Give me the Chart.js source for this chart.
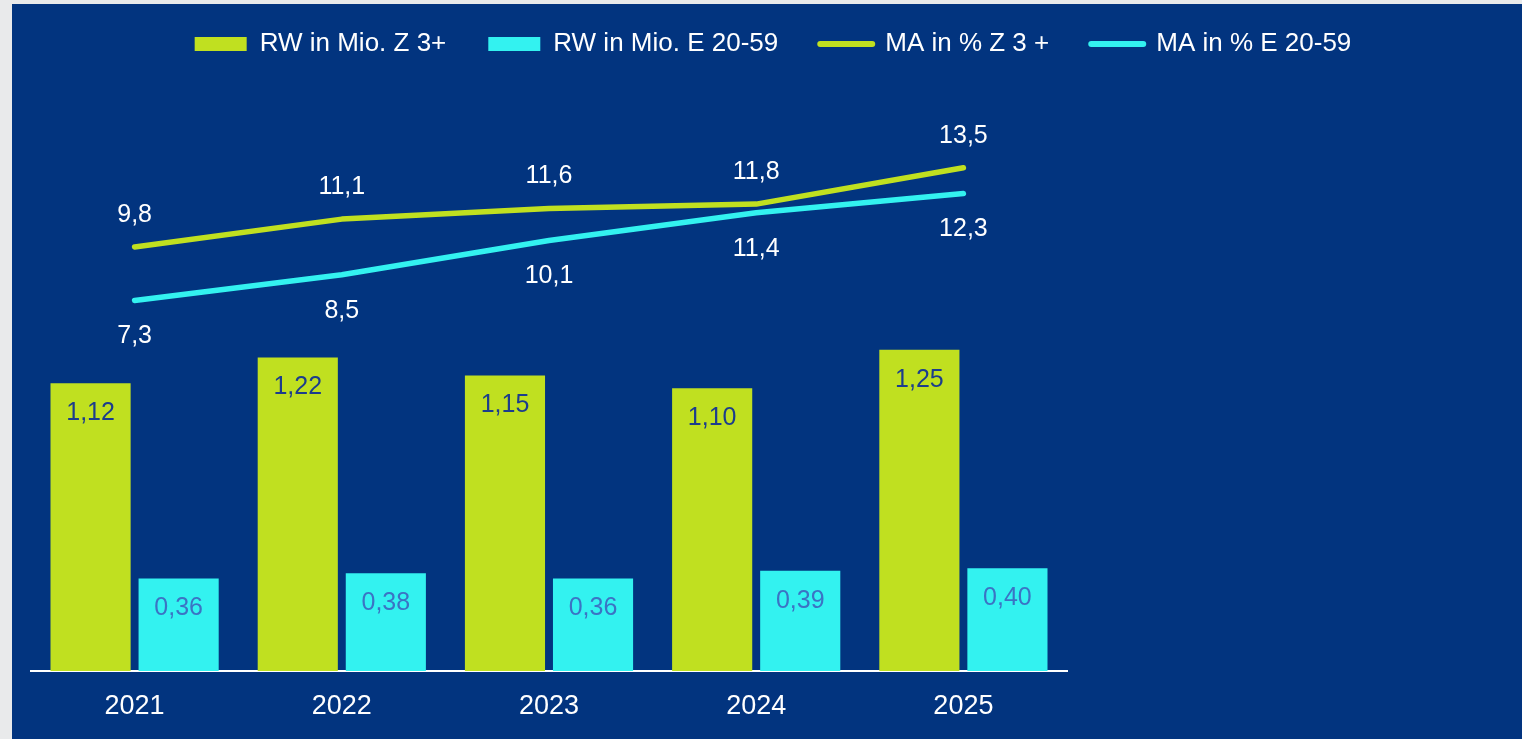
<!DOCTYPE html>
<html>
<head>
<meta charset="utf-8">
<script src="https://cdn.jsdelivr.net/npm/chart.js@4"></script>
<style>
  html, body { margin: 0; padding: 0; background: #e9eaeb; overflow: hidden; }
  #panel { position: absolute; left: 12px; top: 4px; width: 1510px; height: 735px; background: #02347f; }
</style>
</head>
<body>
<div id="panel"><canvas id="chart"></canvas></div>
<script>
// --- Data ---
const years = ['2021', '2022', '2023', '2024', '2025'];
const rwZ = [1.12, 1.22, 1.15, 1.10, 1.25];   // RW in Mio. Z 3+
const rwE = [0.36, 0.38, 0.36, 0.39, 0.40];   // RW in Mio. E 20-59
const maZ = [9.8, 11.1, 11.6, 11.8, 13.5];    // MA in % Z 3 +
const maE = [7.3, 8.5, 10.1, 11.4, 12.3];     // MA in % E 20-59
const seriesNames = ['RW in Mio. Z 3+', 'RW in Mio. E 20-59', 'MA in % Z 3 +', 'MA in % E 20-59'];

const LIME = '#c0e020';
const CYAN = '#33f2f0';

Chart.defaults.font.family = '"Liberation Sans", Arial, sans-serif';

// value labels drawn next to bars / line points
const valueLabels = {
    id: 'valueLabels',
    afterDatasetsDraw(chart) {
        const ctx = chart.ctx;
        ctx.save();
        ctx.textAlign = 'center';
        ctx.textBaseline = 'middle';
        ctx.font = '25px "Liberation Sans", Arial, sans-serif';
        chart.data.datasets.forEach((ds, i) => {
            const meta = chart.getDatasetMeta(i);
            meta.data.forEach((el, j) => {
                const txt = ds.data[j].toFixed(ds.decimals).replace('.', ',');
                ctx.fillStyle = ds.labelColor;
                ctx.fillText(txt, el.x, el.y + ds.labelOffset);
            });
        });
        ctx.restore();
    }
};

// reserve room above the plot for the legend
const legendSpace = {
    id: 'legendSpace',
    beforeInit(chart) {
        if (!chart.legend) return;
        const fit = chart.legend.fit;
        chart.legend.fit = function () {
            fit.call(this);
            this.height = 168;
        };
    }
};

const ctx = document.getElementById('chart').getContext('2d');
new Chart(ctx, {
    data: {
        labels: years,
        datasets: [
            {
                type: 'bar', label: seriesNames[0], data: rwZ, yAxisID: 'y',
                backgroundColor: LIME, borderWidth: 0, order: 1,
                decimals: 2, labelColor: '#1c3d8c', labelOffset: 30
            },
            {
                type: 'bar', label: seriesNames[1], data: rwE, yAxisID: 'y',
                backgroundColor: CYAN, borderWidth: 0, order: 1,
                decimals: 2, labelColor: '#3b73c4', labelOffset: 30
            },
            {
                type: 'line', label: seriesNames[2], data: maZ, yAxisID: 'y2',
                borderColor: LIME, backgroundColor: LIME, borderWidth: 5.5, tension: 0,
                borderCapStyle: 'round', borderJoinStyle: 'round',
                pointRadius: 0, fill: false, order: 0,
                decimals: 1, labelColor: '#ffffff', labelOffset: -32
            },
            {
                type: 'line', label: seriesNames[3], data: maE, yAxisID: 'y2',
                borderColor: CYAN, backgroundColor: CYAN, borderWidth: 5.5, tension: 0,
                borderCapStyle: 'round', borderJoinStyle: 'round',
                pointRadius: 0, fill: false, order: 0,
                decimals: 1, labelColor: '#ffffff', labelOffset: 36
            }
        ]
    },
    options: {
        responsive: true,
        maintainAspectRatio: false,
        animation: false,
        layout: { padding: { left: 12, top: -15, right: 0, bottom: 0 } },
        datasets: {
            bar: { categoryPercentage: 0.85, barPercentage: 0.91 }
        },
        plugins: {
            tooltip: { enabled: false },
            legend: {
                position: 'top',
                labels: {
                    usePointStyle: true,
                    pointStyleWidth: 52,
                    boxHeight: 14,
                    padding: 42,
                    color: '#ffffff',
                    font: { size: 26 },
                    generateLabels(chart) {
                        return chart.data.datasets.map((ds, i) => ({
                            text: ds.label,
                            fillStyle: ds.backgroundColor,
                            strokeStyle: ds.type === 'line' ? ds.borderColor : ds.backgroundColor,
                            lineWidth: ds.type === 'line' ? 6 : 0,
                            lineCap: 'round',
                            pointStyle: ds.type === 'line' ? 'line' : 'rect',
                            fontColor: '#ffffff',
                            hidden: false,
                            datasetIndex: i
                        }));
                    }
                }
            }
        },
        scales: {
            x: {
                grid: { display: false, drawTicks: false },
                border: { display: true, color: '#ffffff', width: 2 },
                ticks: { color: '#ffffff', font: { size: 27 }, padding: 19 },
                afterFit(s) { s.height = 68; }
            },
            y: {
                position: 'left', min: 0, max: 2,
                ticks: { display: false },
                grid: { display: false, drawTicks: false },
                border: { display: false },
                afterFit(s) { s.width = 7; }
            },
            y2: {
                position: 'right', min: -10, max: 14,
                ticks: { display: false },
                grid: { display: false, drawTicks: false },
                border: { display: false },
                afterFit(s) { s.width = 455; }
            }
        }
    },
    plugins: [valueLabels, legendSpace]
});
</script>
</body>
</html>
